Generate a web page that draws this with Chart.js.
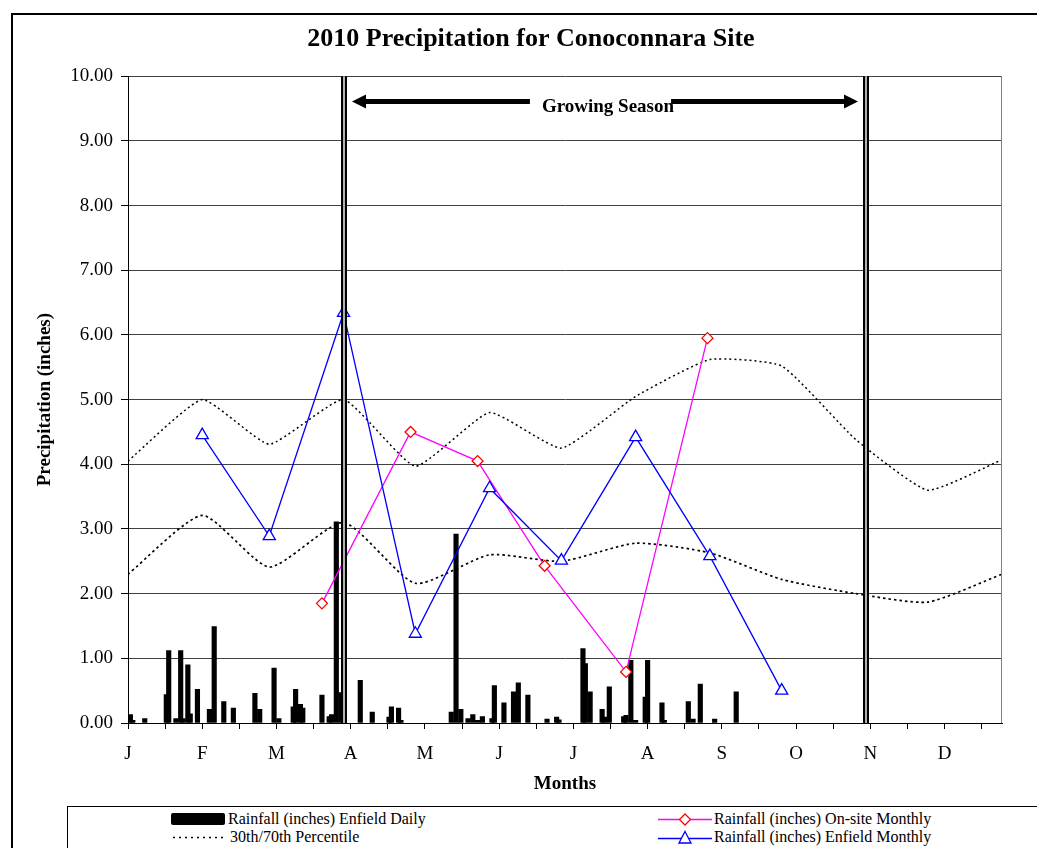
<!DOCTYPE html>
<html>
<head>
<meta charset="utf-8">
<script src="https://cdn.jsdelivr.net/npm/chart.js@4.4.0/dist/chart.umd.min.js"></script>
<style>
  body { margin: 0; background: #fff; overflow: hidden; width: 1037px; height: 848px; position: relative;
         font-family: "Liberation Serif", "Times New Roman", serif; }
  #frame { position: absolute; left: 11px; top: 13px; width: 1100px; height: 900px; border: 2px solid #000; }
  #chart { position: absolute; left: 0; top: 0; }
  #legend { position: absolute; left: 67px; top: 806px; width: 1100px; height: 100px; border: 1px solid #000;
            background: #fff; font-size: 16px; color: #000; }
  .item { position: absolute; display: flex; align-items: center; height: 18px; white-space: nowrap; }
  .item svg { display: block; }
</style>
</head>
<body>
<div id="frame"></div>
<canvas id="chart" width="1037" height="848"></canvas>
<div id="legend"></div>

<script>
// month letters shown every 31 days along the x axis
const months = ['J', 'F', 'M', 'A', 'M', 'J', 'J', 'A', 'S', 'O', 'N', 'D'];

// Enfield daily rainfall (day of year, inches)
const dailyDays = [1, 2, 7, 16, 17, 20, 22, 23, 25, 26, 29, 34, 36, 40, 44, 53, 55, 61, 63, 69, 70, 72, 73,
                   81, 84, 85, 87, 89, 97, 102, 109, 110, 113, 114, 135, 137, 139, 142, 144, 146, 148, 152,
                   153, 157, 161, 163, 167, 175, 179, 180, 190, 191, 193, 198, 199, 201, 207, 208, 210, 212,
                   216, 217, 223, 224, 234, 236, 239, 245, 254];
const dailyRain = [0.13, 0.04, 0.07, 0.44, 1.12, 0.07, 1.12, 0.07, 0.90, 0.14, 0.52, 0.21, 1.49, 0.33, 0.23,
                   0.46, 0.21, 0.85, 0.07, 0.25, 0.52, 0.29, 0.23, 0.43, 0.10, 0.13, 3.11, 0.47, 0.66, 0.17,
                   0.09, 0.25, 0.23, 0.04, 0.17, 2.92, 0.21, 0.07, 0.13, 0.04, 0.10, 0.07, 0.58, 0.31, 0.48,
                   0.62, 0.43, 0.06, 0.09, 0.05, 1.15, 0.92, 0.48, 0.21, 0.09, 0.56, 0.10, 0.12, 0.97, 0.04,
                   0.40, 0.97, 0.31, 0.04, 0.33, 0.06, 0.60, 0.06, 0.48];

// 30th / 70th percentile curves
const pctDays = [0, 31, 59, 90, 120, 151, 181, 212, 243, 273, 304, 334, 365];
const pct70 = [4.05, 5.00, 4.31, 5.00, 3.97, 4.80, 4.25, 5.05, 5.62, 5.52, 4.38, 3.60, 4.07];
const pct30 = [2.30, 3.21, 2.41, 3.10, 2.16, 2.60, 2.50, 2.78, 2.63, 2.22, 2.00, 1.87, 2.30];

// monthly totals
const onsiteDays = [81, 118, 146, 174, 208, 242];
const onsiteRain = [1.85, 4.50, 4.05, 2.43, 0.79, 5.95];
const enfieldDays = [31, 59, 90, 120, 151, 181, 212, 243, 273];
const enfieldRain = [4.45, 2.89, 6.34, 1.38, 3.63, 2.51, 4.42, 2.58, 0.50];

// growing season markers
const seasonDays = [90, 308];
const seasonLabel = 'Growing Season';
const arrowLevel = 9.61;

// x tick marks every half of a 31-day label step
const tickDays = [];
for (let k = 0; k <= 23; k++) tickDays.push(k * 15.5);

const pairs = (xs, ys) => xs.map((d, i) => ({ x: d, y: ys[i] }));

Chart.defaults.font.family = '"Liberation Serif", "Times New Roman", serif';
Chart.defaults.color = '#000';

// double vertical lines, arrow and label, plus grey right edge of the plot
const seasonPlugin = {
  id: 'season',
  afterDatasetsDraw(chart) {
    const { ctx, chartArea: area, scales: { x, y } } = chart;
    ctx.save();
    ctx.strokeStyle = '#808080';
    ctx.lineWidth = 1;
    ctx.beginPath();
    ctx.moveTo(area.right - 0.5, area.top);
    ctx.lineTo(area.right - 0.5, area.bottom);
    ctx.stroke();

    const h = area.bottom - area.top;
    const xs = seasonDays.map(d => Math.round(x.getPixelForValue(d)));
    xs.forEach(px => {
      ctx.fillStyle = '#000';
      ctx.fillRect(px - 3, area.top, 6, h);
      ctx.fillStyle = '#b0b0b0';
      ctx.fillRect(px - 1, area.top, 2, h);
    });

    const ay = Math.round(y.getPixelForValue(arrowLevel));
    const left = xs[0] + 8, right = xs[1] - 8;
    ctx.font = 'bold 19px "Liberation Serif"';
    const tw = ctx.measureText(seasonLabel).width;
    const tx = (left + right) / 2 + 3;
    ctx.fillStyle = '#000';
    ctx.textAlign = 'center';
    ctx.textBaseline = 'middle';
    ctx.fillText(seasonLabel, tx, ay + 6);

    const head = 14;
    ctx.fillRect(left + head - 1, ay - 2, (tx - tw / 2 - 12) - (left + head - 1), 5);
    ctx.fillRect(tx + tw / 2 - 3, ay - 2, (right - head + 1) - (tx + tw / 2 - 3), 5);
    ctx.beginPath();
    ctx.moveTo(left, ay + 0.5);
    ctx.lineTo(left + head, ay - 6.5);
    ctx.lineTo(left + head, ay + 7.5);
    ctx.closePath();
    ctx.fill();
    ctx.beginPath();
    ctx.moveTo(right, ay + 0.5);
    ctx.lineTo(right - head, ay - 6.5);
    ctx.lineTo(right - head, ay + 7.5);
    ctx.closePath();
    ctx.fill();
    ctx.restore();
  }
};

const ctx = document.getElementById('chart').getContext('2d');
const precipChart = new Chart(ctx, {
  type: 'line',
  data: {
    datasets: [
      {
        type: 'bar',
        label: 'Rainfall (inches) Enfield Daily',
        data: pairs(dailyDays, dailyRain),
        backgroundColor: '#000',
        barThickness: 4.5,
        order: 5
      },
      {
        label: '30th/70th Percentile',
        data: pairs(pctDays, pct70),
        borderColor: '#000',
        borderWidth: 1.5,
        borderDash: [2, 3],
        pointRadius: 0,
        tension: 0.15,
        order: 4
      },
      {
        label: '30th Percentile',
        data: pairs(pctDays, pct30),
        borderColor: '#000',
        borderWidth: 1.7,
        borderDash: [2.5, 3],
        pointRadius: 0,
        tension: 0.2,
        order: 3
      },
      {
        label: 'Rainfall (inches) On-site Monthly',
        data: pairs(onsiteDays, onsiteRain),
        borderColor: '#ff00ff',
        borderWidth: 1.3,
        pointStyle: 'rectRot',
        pointRadius: 5.5,
        pointBorderColor: '#ff0000',
        pointBackgroundColor: '#fff',
        pointBorderWidth: 1.3,
        tension: 0,
        order: 2
      },
      {
        label: 'Rainfall (inches) Enfield Monthly',
        data: pairs(enfieldDays, enfieldRain),
        borderColor: '#0000ff',
        borderWidth: 1.3,
        pointStyle: 'triangle',
        pointRadius: 7,
        pointBorderColor: '#0000ff',
        pointBackgroundColor: '#fff',
        pointBorderWidth: 1.3,
        tension: 0,
        order: 1
      }
    ]
  },
  options: {
    responsive: false,
    animation: false,
    layout: { padding: { left: 30, right: 5, top: 0, bottom: 48 } },
    plugins: {
      legend: { display: false },
      tooltip: { enabled: false },
      title: {
        display: true,
        text: '2010 Precipitation for Conoconnara Site',
        color: '#000',
        font: { size: 26, weight: 'bold' },
        padding: { top: 24, bottom: 21 }
      }
    },
    scales: {
      x: {
        type: 'linear',
        min: 0,
        max: 365,
        offset: false,
        afterBuildTicks(scale) { scale.ticks = tickDays.map(v => ({ value: v })); },
        ticks: {
          autoSkip: false,
          maxRotation: 0,
          minRotation: 0,
          padding: 14,
          font: { size: 19 },
          color: '#000',
          callback: v => (v % 31 === 0 && v / 31 < months.length) ? months[v / 31] : ''
        },
        grid: { drawOnChartArea: false, offset: false, tickLength: 6, tickColor: '#000' },
        border: { color: '#000', width: 1 },
        title: {
          display: true,
          text: 'Months',
          color: '#000',
          font: { size: 19, weight: 'bold' },
          padding: { top: 0, bottom: 5 }
        },
        afterFit(scale) { scale.height = 77; }
      },
      y: {
        position: 'left',
        min: 0,
        max: 10,
        ticks: { stepSize: 1, padding: 8, font: { size: 19 }, color: '#000', callback: v => v.toFixed(2) },
        grid: { color: '#404040', lineWidth: 1, tickLength: 7, tickColor: '#000' },
        border: { color: '#000', width: 1 },
        title: {
          display: true,
          text: 'Precipitation (inches)',
          color: '#000',
          font: { size: 19, weight: 'bold' },
          padding: { top: 4, bottom: 0 }
        },
        afterFit(scale) { scale.width = 98; }
      },
      yRight: {
        position: 'right',
        display: true,
        ticks: { display: false },
        grid: { display: false, drawTicks: false },
        border: { display: false },
        afterFit(scale) { scale.width = 30; }
      }
    }
  },
  plugins: [seasonPlugin]
});

// legend laid out in two columns like the original
const legendItems = [
  { left: 103, top: 3, gap: 3, text: 'Rainfall (inches) Enfield Daily',
    svg: '<rect x="0" y="1" width="54" height="12" rx="2" fill="#000"/>' },
  { left: 104, top: 21, gap: 4, text: '30th/70th Percentile',
    svg: '<line x1="1" y1="7.5" x2="52" y2="7.5" stroke="#000" stroke-width="1.6" stroke-dasharray="2,4"/>' },
  { left: 590, top: 3, gap: 2, text: 'Rainfall (inches) On-site Monthly',
    svg: '<line x1="0" y1="7.5" x2="54" y2="7.5" stroke="#ff00ff" stroke-width="1.5"/>' +
         '<polygon points="27,2 32.5,7.5 27,13 21.5,7.5" fill="#fff" stroke="#ff0000" stroke-width="1.3"/>' },
  { left: 590, top: 21, gap: 2, text: 'Rainfall (inches) Enfield Monthly',
    svg: '<line x1="0" y1="8.5" x2="54" y2="8.5" stroke="#0000ff" stroke-width="1.5"/>' +
         '<polygon points="27,1.5 33,13 21,13" fill="#fff" stroke="#0000ff" stroke-width="1.3"/>' }
];
const legendDiv = document.getElementById('legend');
legendItems.forEach(it => {
  const el = document.createElement('div');
  el.className = 'item';
  el.style.left = it.left + 'px';
  el.style.top = it.top + 'px';
  el.innerHTML = '<svg width="54" height="15">' + it.svg + '</svg>' +
                 '<span style="margin-left:' + it.gap + 'px">' + it.text + '</span>';
  legendDiv.appendChild(el);
});
</script>
</body>
</html>
